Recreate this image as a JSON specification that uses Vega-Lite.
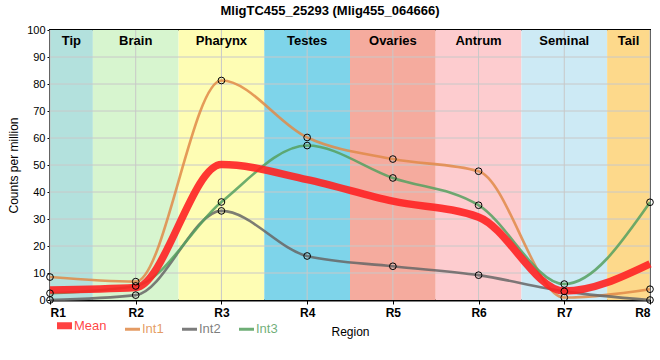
{
  "$schema": "https://vega.github.io/schema/vega-lite/v6.json",
  "width": 600,
  "height": 270,
  "autosize": "none",
  "padding": {"left": 50, "top": 30, "right": 10, "bottom": 60},
  "title": {"text": "MligTC455_25293 (Mlig455_064666)", "font": "Liberation Sans", "fontSize": 13, "fontWeight": "bold", "color": "#000000", "offset": 6, "dx": -20},
  "config": {
    "view": {"stroke": "#000000", "strokeWidth": 2},
    "font": "Liberation Sans",
    "axis": {"labelFont": "Liberation Sans", "titleFont": "Liberation Sans", "labelColor": "#000000", "titleColor": "#000000", "domainColor": "#000000", "tickColor": "#000000", "grid": false, "labelOverlap": false}
  },
  "datasets": {
    "regions": [
      {"name": "Tip", "start": 1, "end": 1.5, "mid": 1.25, "color": "#b3e1dd"},
      {"name": "Brain", "start": 1.5, "end": 2.5, "mid": 2, "color": "#d7f5cf"},
      {"name": "Pharynx", "start": 2.5, "end": 3.5, "mid": 3, "color": "#fefdb4"},
      {"name": "Testes", "start": 3.5, "end": 4.5, "mid": 4, "color": "#7ed4ea"},
      {"name": "Ovaries", "start": 4.5, "end": 5.5, "mid": 5, "color": "#f5ab9e"},
      {"name": "Antrum", "start": 5.5, "end": 6.5, "mid": 6, "color": "#fdcccf"},
      {"name": "Seminal", "start": 6.5, "end": 7.5, "mid": 7, "color": "#cdeaf5"},
      {"name": "Tail", "start": 7.5, "end": 8, "mid": 7.75, "color": "#fdd98b"}
    ],
    "xgrid": [{"r": 1}, {"r": 2}, {"r": 3}, {"r": 4}, {"r": 5}, {"r": 6}, {"r": 7}, {"r": 8}],
    "ygrid": [{"v": 10}, {"v": 20}, {"v": 30}, {"v": 40}, {"v": 50}, {"v": 60}, {"v": 70}, {"v": 80}, {"v": 90}],
    "series": [
      {"r": 1, "series": "Mean", "value": 3.7},
      {"r": 2, "series": "Mean", "value": 4.6},
      {"r": 3, "series": "Mean", "value": 50.2},
      {"r": 4, "series": "Mean", "value": 44.6},
      {"r": 5, "series": "Mean", "value": 36.6},
      {"r": 6, "series": "Mean", "value": 30.7},
      {"r": 7, "series": "Mean", "value": 3.3},
      {"r": 8, "series": "Mean", "value": 13.4},
      {"r": 1, "series": "Int1", "value": 8.5},
      {"r": 2, "series": "Int1", "value": 6.8},
      {"r": 3, "series": "Int1", "value": 81.3},
      {"r": 4, "series": "Int1", "value": 60.2},
      {"r": 5, "series": "Int1", "value": 52.2},
      {"r": 6, "series": "Int1", "value": 47.7},
      {"r": 7, "series": "Int1", "value": 0.9},
      {"r": 8, "series": "Int1", "value": 4.0},
      {"r": 1, "series": "Int2", "value": 0},
      {"r": 2, "series": "Int2", "value": 1.8},
      {"r": 3, "series": "Int2", "value": 33.0},
      {"r": 4, "series": "Int2", "value": 16.3},
      {"r": 5, "series": "Int2", "value": 12.5},
      {"r": 6, "series": "Int2", "value": 9.2},
      {"r": 7, "series": "Int2", "value": 3.2},
      {"r": 8, "series": "Int2", "value": 0},
      {"r": 1, "series": "Int3", "value": 2.5},
      {"r": 2, "series": "Int3", "value": 5.2},
      {"r": 3, "series": "Int3", "value": 36.3},
      {"r": 4, "series": "Int3", "value": 57.2},
      {"r": 5, "series": "Int3", "value": 45.2},
      {"r": 6, "series": "Int3", "value": 35.1},
      {"r": 7, "series": "Int3", "value": 5.9},
      {"r": 8, "series": "Int3", "value": 36.2}
    ]
  },
  "encoding": {
    "x": {"type": "quantitative", "scale": {"domain": [1, 8], "nice": false, "zero": false},
          "axis": {"values": [1, 2, 3, 4, 5, 6, 7, 8], "labelExpr": "'R' + datum.value", "labelFontWeight": "bold", "labelFontSize": 12, "labelPadding": 3, "tickSize": 4, "domainWidth": 2, "title": "Region", "titleFontWeight": "normal", "titleFontSize": 12, "titlePadding": 8}},
    "y": {"type": "quantitative", "scale": {"domain": [0, 100], "nice": false},
          "axis": {"values": [0, 10, 20, 30, 40, 50, 60, 70, 80, 90, 100], "labelFontSize": 11, "tickSize": 3, "labelPadding": 2, "domainWidth": 2, "title": "Counts per million", "titleFontWeight": "normal", "titleFontSize": 12, "titlePadding": 6}}
  },
  "layer": [
    {
      "data": {"name": "regions"},
      "mark": {"type": "rect"},
      "encoding": {
        "x": {"field": "start"},
        "x2": {"field": "end"},
        "y": {"datum": 0},
        "y2": {"datum": 100},
        "fill": {"field": "color", "type": "nominal", "scale": null}
      }
    },
    {
      "data": {"name": "xgrid"},
      "mark": {"type": "rule", "color": "#c8c8c8", "strokeWidth": 1},
      "encoding": {"x": {"field": "r"}, "y": {"datum": 0}, "y2": {"datum": 100}}
    },
    {
      "data": {"name": "ygrid"},
      "mark": {"type": "rule", "color": "#c8c8c8", "strokeWidth": 1},
      "encoding": {"y": {"field": "v"}, "x": {"datum": 1}, "x2": {"datum": 8}}
    },
    {
      "data": {"name": "regions"},
      "mark": {"type": "text", "font": "Liberation Sans", "fontSize": 13, "fontWeight": "bold", "color": "#000000", "baseline": "middle"},
      "encoding": {
        "x": {"field": "mid"},
        "y": {"datum": 96},
        "text": {"field": "name"}
      }
    },
    {
      "data": {"name": "series"},
      "transform": [{"filter": "datum.series != 'Mean'"}],
      "mark": {"type": "line", "interpolate": "monotone", "opacity": 0.85, "strokeWidth": 2.6},
      "encoding": {
        "x": {"field": "r"},
        "y": {"field": "value"},
        "color": {"field": "series", "type": "nominal",
                  "scale": {"domain": ["Mean", "Int1", "Int2", "Int3"], "range": ["#ff2222", "#e08a48", "#666666", "#55a05f"]},
                  "legend": {"orient": "none", "legendX": 8, "legendY": 289, "direction": "horizontal", "title": null, "symbolType": "stroke", "symbolSize": 225,
                             "symbolStrokeWidth": {"expr": "datum.value == 'Mean' ? 7 : 3"},
                             "labelColor": {"expr": "scale('color', datum.value)"},
                             "labelOpacity": 0.85,
                             "labelFontSize": 13, "labelFont": "Liberation Sans", "columnPadding": 12, "labelOffset": 3}}
      }
    },
    {
      "data": {"name": "series"},
      "transform": [{"filter": "datum.series == 'Mean'"}],
      "mark": {"type": "line", "interpolate": "monotone", "opacity": 0.9, "strokeWidth": 7.5},
      "encoding": {
        "x": {"field": "r"},
        "y": {"field": "value"},
        "color": {"field": "series", "type": "nominal"}
      }
    },
    {
      "data": {"name": "series"},
      "transform": [{"filter": "datum.series != 'Mean'"}],
      "mark": {"type": "point", "shape": "circle", "filled": false, "stroke": "#000000", "strokeWidth": 1, "size": 45, "opacity": 1},
      "encoding": {
        "x": {"field": "r"},
        "y": {"field": "value"}
      }
    }
  ]
}
